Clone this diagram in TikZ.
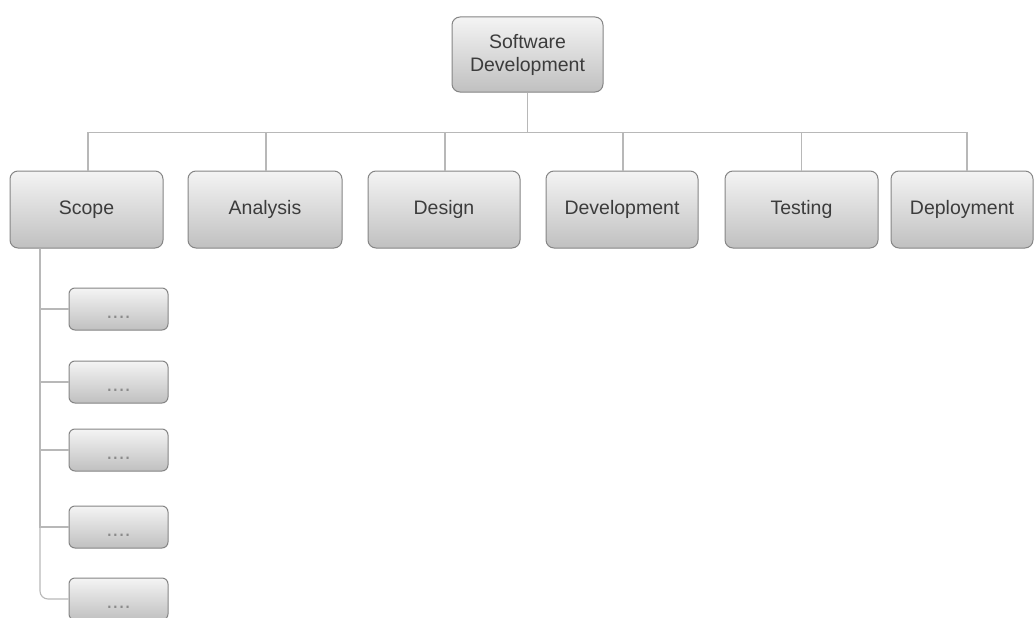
\documentclass[tikz,border=0pt]{standalone}
\usepackage{fontspec}
\setmainfont{Liberation Sans}
\begin{document}
\begin{tikzpicture}[x=1pt,y=-1pt,
  box/.style={draw=boxedge, line width=1pt, rounded corners=8pt,
    top color=boxtop, bottom color=boxbot, align=center,
    inner sep=0pt, text=txt, font=\fontsize{19.5}{23}\selectfont},
  mainbox/.style={box, minimum height=77pt},
  subbox/.style={box, rounded corners=6pt, minimum width=99pt, minimum height=42pt,
    text=dots, font=\fontsize{22}{24}\selectfont},
  link/.style={draw=linecol, line width=1.1pt}]
\definecolor{boxedge}{HTML}{858585}
\definecolor{boxtop}{HTML}{F4F4F4}
\definecolor{boxbot}{HTML}{C0C0C0}
\definecolor{txt}{HTML}{3C3C3C}
\definecolor{dots}{HTML}{8A8A8A}
\definecolor{linecol}{HTML}{B8B8B8}
\useasboundingbox (0,0) rectangle (1036,618);

% root and first level
\node[box, minimum width=151pt, minimum height=75pt] (root) at (527.5,54.5) {Software\\Development};
\node[mainbox, minimum width=153pt] (scope)  at (86.5,209.5)  {Scope};
\node[mainbox, minimum width=154pt] (analys) at (265,209.5)   {Analysis};
\node[mainbox, minimum width=152pt] (design) at (444,209.5)   {Design};
\node[mainbox, minimum width=152pt] (devel)  at (622,209.5)   {Development};
\node[mainbox, minimum width=153pt] (test)   at (801.5,209.5) {Testing};
\node[mainbox, minimum width=142pt] (deploy) at (962,209.5)   {Deployment};

% sub-items under Scope, their dots sitting low in the box
\foreach \n/\y in {1/309,2/382,3/450,4/527,5/599}
  \node[subbox] (sub\n) at (118.5,\y) {\raisebox{-9pt}[0pt][0pt]{....}};

% connectors from the root to the phases
\path[link] (root.south) -- ++(0,40) coordinate (busmid);
\draw[link] (root.south) -- (busmid);
\draw[link] (busmid) -| ([xshift=1.5pt]scope.north);
\draw[link] (busmid) -| ([xshift=1pt]analys.north);
\draw[link] (busmid) -| ([xshift=1pt]design.north);
\draw[link] (busmid) -| ([xshift=1pt]devel.north);
\draw[link] (busmid) -| (test.north);
\draw[link] (busmid) -| ([xshift=5pt]deploy.north);

% trunk from Scope to its sub-items
\coordinate (trunk) at ([xshift=-46.5pt]scope.south);
\foreach \n in {1,2,3,4}
  \draw[link] (trunk) |- (sub\n.west);
\draw[link, rounded corners=8pt] (trunk) |- (sub5.west);
\end{tikzpicture}
\end{document}
